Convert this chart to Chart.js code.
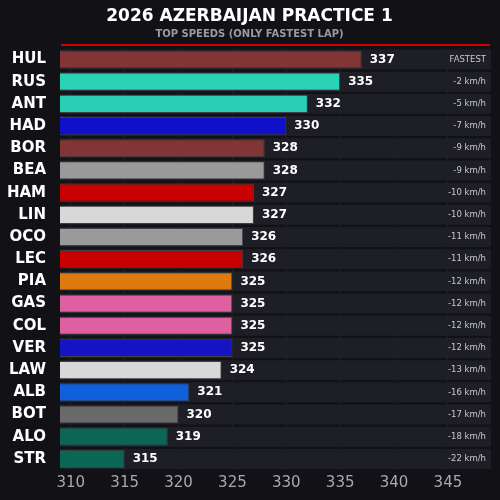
<!DOCTYPE html>
<html><head><meta charset="utf-8">
<script src="https://cdn.jsdelivr.net/npm/chart.js@4"></script>
<style>
html,body{margin:0;padding:0;background:#111116;}
#wrap{width:500px;height:500px;position:relative;}
</style></head>
<body><div id="wrap"><canvas id="c" width="500" height="500"></canvas></div>
<script>
const drivers = ['HUL','RUS','ANT','HAD','BOR','BEA','HAM','LIN','OCO','LEC','PIA','GAS','COL','VER','LAW','ALB','BOT','ALO','STR'];
const speeds = [337,335,332,330,328,328,327,327,326,326,325,325,325,325,324,321,320,319,315];
const gaps = ['FASTEST','-2 km/h','-5 km/h','-7 km/h','-9 km/h','-9 km/h','-10 km/h','-10 km/h','-11 km/h','-11 km/h','-12 km/h','-12 km/h','-12 km/h','-12 km/h','-13 km/h','-16 km/h','-17 km/h','-18 km/h','-22 km/h'];
const colors = ['#823535','#2ad2b6','#28cfb4','#1010c8','#823535','#9a9a9a','#c80000','#d8d8d8','#9a9a9a','#c80000','#de7a0e','#de60a0','#de60a0','#1414c4','#d8d8d8','#1060dc','#6a6a6a','#0b6656','#0b6656'];
const xTicks = [310,315,320,325,330,335,340,345];
const xMin = 309, xMax = 349;

const overlay = {
  id: 'overlay',
  afterDatasetsDraw(chart) {
    const ctx = chart.ctx, x = chart.scales.x, y = chart.scales.y;
    ctx.save();
    ctx.textBaseline = 'middle';
    drivers.forEach((d, i) => {
      const yy = y.getPixelForValue(i);
      ctx.fillStyle = '#ffffff';
      ctx.font = 'bold 12px "DejaVu Sans"';
      ctx.textAlign = 'left';
      ctx.fillText(speeds[i], x.getPixelForValue(speeds[i]) + 8, yy);
      ctx.fillStyle = '#c8c8cc';
      ctx.font = '8.5px "DejaVu Sans"';
      ctx.textAlign = 'right';
      ctx.fillText(gaps[i], chart.chartArea.right - 5, yy);
    });
    ctx.fillStyle = '#d00000';
    ctx.fillRect(61, 44, 429, 2);
    ctx.restore();
  }
};

new Chart(document.getElementById('c'), {
  type: 'bar',
  data: {
    labels: drivers,
    datasets: [
      { data: speeds, backgroundColor: colors, borderColor: 'rgba(255,255,255,0.15)', borderWidth: 1, barPercentage: 0.82, categoryPercentage: 1, grouped: false, order: 1 },
      { data: drivers.map(() => xMax), backgroundColor: '#1e1e26', barPercentage: 0.9, categoryPercentage: 1, grouped: false, order: 2 }
    ]
  },
  options: {
    indexAxis: 'y',
    responsive: false,
    animation: false,
    layout: { padding: { left: 8, right: 9, top: 0, bottom: 4 } },
    plugins: {
      legend: { display: false },
      tooltip: { enabled: false },
      title: { display: true, text: '2026 AZERBAIJAN PRACTICE 1', color: '#ffffff', font: { size: 17, weight: 'bold', family: 'DejaVu Sans' }, padding: { top: 6, bottom: 2 } },
      subtitle: { display: true, text: 'TOP SPEEDS (ONLY FASTEST LAP)', color: '#9a9aa4', font: { size: 10, weight: 'bold', family: 'DejaVu Sans' }, padding: { bottom: 8 } }
    },
    scales: {
      x: {
        min: xMin, max: xMax,
        afterBuildTicks(s) { s.ticks = xTicks.map(v => ({ value: v })); },
        grid: { color: 'rgba(255,255,255,0.07)', drawTicks: false },
        border: { display: false },
        ticks: { color: '#a8a8b2', font: { size: 15, family: 'DejaVu Sans' }, padding: 4 }
      },
      y: {
        afterFit(s) { s.width = 52; },
        grid: { display: false },
        border: { display: false },
        ticks: { color: '#ffffff', font: { size: 15, weight: 'bold', family: 'DejaVu Sans' }, padding: 6 }
      }
    }
  },
  plugins: [overlay]
});
</script></body></html>
